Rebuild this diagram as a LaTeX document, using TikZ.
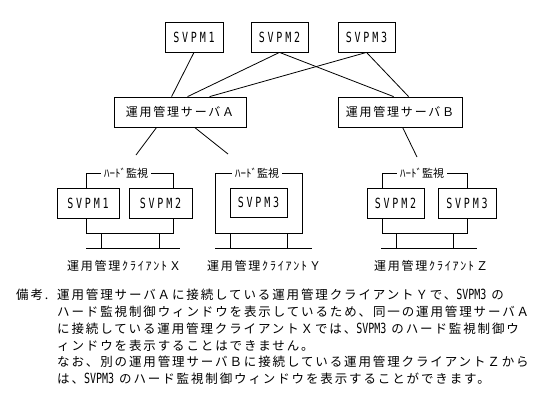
\documentclass[tikz,border=0pt]{standalone}
\usepackage{fontspec}
\usepackage{graphicx}
\usetikzlibrary{calc}
\newfontfamily\jpplain{Noto Sans CJK JP}
\newfontfamily\jpspaced[LetterSpace=15]{Noto Sans CJK JP}
\newfontfamily\monospaced[LetterSpace=28]{DejaVu Sans Mono}
\newfontfamily\monoplain{DejaVu Sans Mono}
\newcommand\boxfont{\monospaced\fontsize{10bp}{12bp}\selectfont}
\newcommand\srvfont{\jpspaced\fontsize{12bp}{14bp}\selectfont}
\newcommand\notefont{\jpspaced\fontsize{12.5bp}{14bp}\selectfont}
\newcommand\hwfont{\jpplain\fontsize{11bp}{13bp}\selectfont}
\newcommand\bxt[1]{\scalebox{1}[1.4]{\boxfont #1}}
\newcommand\svpm{\scalebox{1}[1.4]{\monoplain\fontsize{10bp}{12bp}\selectfont SVPM3}\hspace{5bp}}
\tikzset{
  box/.style={draw, line width=0.8bp, inner sep=0, minimum height=30bp},
  srv/.style={draw, line width=0.8bp, inner sep=0, minimum height=30bp, font=\srvfont},
  wire/.style={line width=0.8bp},
  hwlabel/.style={fill=white, inner xsep=3bp, inner ysep=0, font=\hwfont},
  clabel/.style={inner sep=0, font=\srvfont},
  noteline/.style={inner sep=0, anchor=west, font=\notefont}
}
\begin{document}
\begin{tikzpicture}[x=1bp,y=-1bp]
\useasboundingbox (0,0) rectangle (552,416);
% top SVPM boxes
\node[box, minimum width=58bp] (s1) at (194,37) {\bxt{SVPM1}};
\node[box, minimum width=57bp] (s2) at (279.5,37) {\bxt{SVPM2}};
\node[box, minimum width=57bp] (s3) at (366.5,37) {\bxt{SVPM3}};
% servers
\node[srv, minimum width=132bp] (A) at (180,112) {運用管理サーバＡ};
\node[srv, minimum width=124bp] (B) at (400,112) {運用管理サーバＢ};
% connectors
\draw[wire] (s1.south) -- ($(A.north west)+(58,0)$);
\draw[wire] (s2.south) -- ($(A.north west)+(74,0)$);
\draw[wire] (s3.south) -- ($(A.north west)+(96,0)$);
\draw[wire] (s2.south) -- ($(B.north west)+(56,0)$);
\draw[wire] (s3.south) -- ($(B.north west)+(71,0)$);
\coordinate (ax) at (136,155);
\coordinate (ay) at (228,154);
\coordinate (bz) at (417,157);
\draw[wire] ($(A.south west)+(43,0)$) -- (ax);
\draw[wire] ($(A.south west)+(81,0)$) -- (ay);
\draw[wire] ($(B.south west)+(65,0)$) -- (bz);
% client X
\node[box, minimum width=62bp] (x1) at (88,203) {\bxt{SVPM1}};
\node[box, minimum width=63bp] (x2) at (160.5,203) {\bxt{SVPM2}};
\draw[wire] (86,188) -- (86,173) -- (173,173) -- (173,188);
\node[hwlabel] (xh) at (126,173) {ﾊｰﾄﾞ監視};
\draw[wire] (86,218) -- (86,233) -- (173,233) -- (173,218);
\draw[wire] (101,233) -- (101,248);
\draw[wire] (159,233) -- (159,248);
\draw[wire] (86,248) -- (180,248);
\node[clabel] (xl) at (124,266) {運用管理ｸﾗｲｱﾝﾄＸ};
% client Y
\node[box, minimum width=57bp, minimum height=29bp] (y3) at (258.5,202.5) {\bxt{SVPM3}};
\draw[wire] (215,173) rectangle (302,233);
\node[hwlabel] (yh) at (257,173) {ﾊｰﾄﾞ監視};
\draw[wire] (230,233) -- (230,248);
\draw[wire] (287,233) -- (287,248);
\draw[wire] (215,248) -- (312,248);
\node[clabel] (yl) at (264,266) {運用管理ｸﾗｲｱﾝﾄＹ};
% client Z
\node[box, minimum width=57bp] (z2) at (395.5,203) {\bxt{SVPM2}};
\node[box, minimum width=58bp] (z3) at (467,203) {\bxt{SVPM3}};
\draw[wire] (382,188) -- (382,173) -- (467,173) -- (467,188);
\node[hwlabel] (zh) at (422,173) {ﾊｰﾄﾞ監視};
\draw[wire] (382,218) -- (382,233) -- (467,233) -- (467,218);
\draw[wire] (396,233) -- (396,248);
\draw[wire] (453,233) -- (453,248);
\draw[wire] (381,248) -- (477,248);
\node[clabel] (zl) at (431,266) {運用管理ｸﾗｲｱﾝﾄＺ};
% note
\node[noteline, anchor=west] (bk) at (16,295) {備考.};
\node[noteline] (n1) at (57,295) {運用管理サーバＡに接続している運用管理クライアントＹで、\svpm の};
\node[noteline] (n2) at (57,312) {ハード監視制御ウィンドウを表示しているため、同一の運用管理サーバＡ};
\node[noteline] (n3) at (57,329) {に接続している運用管理クライアントＸでは、\svpm のハード監視制御ウ};
\node[noteline] (n4) at (57,346) {ィンドウを表示することはできません。};
\node[noteline] (n5) at (57,362) {なお、別の運用管理サーバＢに接続している運用管理クライアントＺから};
\node[noteline] (n6) at (57,379) {は、\svpm のハード監視制御ウィンドウを表示することができます。};
\end{tikzpicture}
\end{document}
